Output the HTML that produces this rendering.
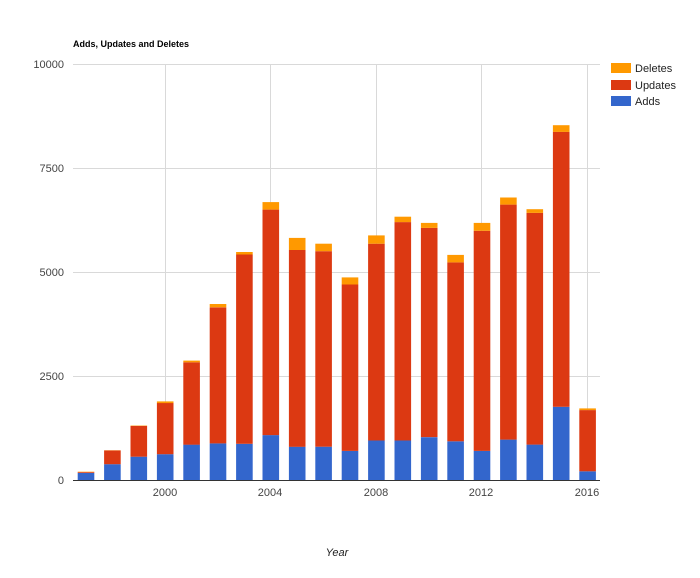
<!DOCTYPE html>
<html><head><meta charset="utf-8"><style>
body{margin:0;background:#fff;width:700px;height:573px;overflow:hidden}
svg{font-family:"Liberation Sans",Arial,sans-serif}
</style></head><body>
<svg id="c" width="700" height="573" xmlns="http://www.w3.org/2000/svg">
<rect width="700" height="573" fill="#fff"/>
<text x="73" y="47" font-size="9" font-weight="bold" fill="#000">Adds, Updates and Deletes</text>
<g stroke="#d9d9d9" stroke-width="1">
<line x1="73" x2="600" y1="64.5" y2="64.5"/>
<line x1="73" x2="600" y1="168.5" y2="168.5"/>
<line x1="73" x2="600" y1="272.5" y2="272.5"/>
<line x1="73" x2="600" y1="376.5" y2="376.5"/>
<line x1="165.5" x2="165.5" y1="64" y2="480"/>
<line x1="270.5" x2="270.5" y1="64" y2="480"/>
<line x1="376.5" x2="376.5" y1="64" y2="480"/>
<line x1="481.5" x2="481.5" y1="64" y2="480"/>
<line x1="587.5" x2="587.5" y1="64" y2="480"/>
</g>
<g font-size="11" fill="#444" text-anchor="end">
<text x="64" y="68">10000</text>
<text x="64" y="172">7500</text>
<text x="64" y="276">5000</text>
<text x="64" y="380">2500</text>
<text x="64" y="484">0</text>
</g>
<g font-size="11" fill="#444" text-anchor="middle">
<text x="165" y="496">2000</text>
<text x="270" y="496">2004</text>
<text x="376" y="496">2008</text>
<text x="481" y="496">2012</text>
<text x="587" y="496">2016</text>
</g>
<text x="337" y="556" font-size="11" font-style="italic" fill="#222" text-anchor="middle">Year</text>
<g id="bars"></g>
<line x1="73" x2="600" y1="480.5" y2="480.5" stroke="#333" stroke-width="1"/>
<rect x="611" y="63" width="20" height="10" fill="#ff9900"/>
<rect x="611" y="80" width="20" height="10" fill="#dc3912"/>
<rect x="611" y="96" width="20" height="10" fill="#3366cc"/>
<g font-size="11" fill="#222">
<text x="635" y="72">Deletes</text>
<text x="635" y="89">Updates</text>
<text x="635" y="105">Adds</text>
</g>
</svg>
<script>
var d=[[170,190,200],[380,710,715],[560,1300,1310],[620,1850,1890],[850,2830,2870],[880,4150,4230],[870,5420,5480],[1080,6500,6680],[800,5530,5820],[800,5500,5680],[700,4700,4870],[950,5680,5880],[950,6200,6330],[1030,6060,6180],[930,5230,5410],[700,5990,6180],[970,6620,6790],[850,6420,6510],[1760,8370,8530],[210,1680,1720]];
var s='',k=0.0416,cols=['#3366cc','#dc3912','#ff9900'];
d.forEach(function(v,i){var cx=86+26.4*i,x=cx-8.3,prev=0;
for(var j=0;j<3;j++){var y1=480-v[j]*k,y0=480-prev*k;
s+='<rect x="'+x.toFixed(1)+'" y="'+y1.toFixed(1)+'" width="16.6" height="'+Math.max(0,y0-y1).toFixed(1)+'" fill="'+cols[j]+'"/>';prev=v[j];}});
document.getElementById('bars').innerHTML=s;
</script>
</body></html>
